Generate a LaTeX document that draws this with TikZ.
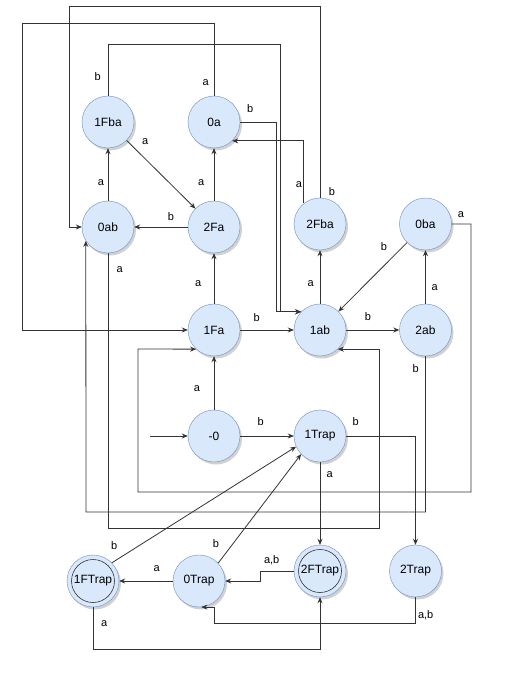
\documentclass[tikz,border=0pt]{standalone}
\usepackage{fontspec}
\setmainfont{Liberation Sans}
\usetikzlibrary{arrows.meta,shadows}
\definecolor{stateFill}{HTML}{DAE8FC}
\definecolor{stateLine}{HTML}{6C8EBF}
\definecolor{edgeInk}{HTML}{333333}

\begin{document}
\begin{tikzpicture}[x=1pt,y=-1pt,
  state/.style={circle, draw=stateLine, fill=stateFill, minimum size=52pt,
    inner sep=0pt, font=\fontsize{12}{14}\selectfont,
    drop shadow={shadow xshift=2pt, shadow yshift=-2.5pt, opacity=0.18, fill=black}},
  accepting/.style={state, path picture={\draw[edgeInk, line width=0.6pt]
    (path picture bounding box.center) circle[radius=21.5pt];}},
  trans/.style={draw=edgeInk, line width=0.8pt, -{Stealth[length=6pt,width=5pt]}},
  lbl/.style={font=\fontsize{11}{13}\selectfont, inner sep=0pt}
]
\fill[white] (0,0) rectangle (519,677);
\useasboundingbox (0,0) rectangle (519,677);

% states
\node[state] (1Fba)  at (108,122)   {1Fba};
\node[state] (0a)    at (214,122)   {0a};
\node[state] (0ab)   at (108,227)   {0ab};
\node[state] (2Fa)   at (214,227)   {2Fa};
\node[state] (2Fba)  at (320,224)   {2Fba};
\node[state] (0ba)   at (425.5,224) {0ba};
\node[state] (1Fa)   at (214,330)   {1Fa};
\node[state] (1ab)   at (320,330)   {1ab};
\node[state] (2ab)   at (425.5,330) {2ab};
\node[state] (m0)    at (214,436)   {-0};
\node[state] (1Trap) at (320,436)   {1Trap};
\node[accepting] (1FTrap) at (93,581)  {1FTrap};
\node[state]     (0Trap)  at (199,581) {0Trap};
\node[accepting] (2FTrap) at (320,571) {2FTrap};
\node[state]     (2Trap)  at (415.5,571) {2Trap};

% initial arrow
\coordinate (start) at (150,436);
\draw[trans] (start) -- (m0);

% straight transitions
\draw[trans] (1Fba) -- (2Fa);
\draw[trans] (0ab) -- (1Fba);
\draw[trans] (2Fa) -- (0a);
\draw[trans] (2Fa) -- (0ab);
\draw[trans] (1Fa) -- (2Fa);
\draw[trans] (1Fa) -- (1ab);
\draw[trans] (m0) -- (1Fa);
\draw[trans] (m0) -- (1Trap);
\draw[trans] (1ab) -- (2Fba);
\draw[trans] (1ab) -- (2ab);
\draw[trans] (0ba) -- (1ab);
\draw[trans] (2ab) -- (0ba);
\draw[trans] (1Trap) -- (2FTrap);
\draw[trans] (0Trap) -- (1FTrap);
\draw[trans] (1FTrap.44) -- (1Trap.204);
\draw[trans] (0Trap.43) -- (1Trap.224);

% routed transitions
\draw[trans] (0a.east) -- ++(36,0) |- (1ab.136);
\draw[trans] (1Fba.north) |- (280,44) |- (1ab.136);
\draw[trans] (0a.north) |- (22,23) |- (1Fa.west);
\draw[trans] (2Fba.north) |- (69,6) |- (0ab.west);
\draw[trans] (2Fba.128) |- (0a.-46.5);
\draw[trans] (0ba.east) -| (471,492) -| (138,349) -- (1Fa.227);
\draw[trans] (0ab.south) |- (379,528) |- (1ab.-47);
\draw[trans] (2ab.south) |- (86,512) -- (0ab.212);
\draw[trans] (1Trap.east) -| (2Trap.north);
\draw[trans] (2FTrap.west) -- (260,571) |- (0Trap.east);
\draw[trans] (2Trap.south) |- (214,623) |- (0Trap.-85);
\draw[trans] (1FTrap.south) |- (320,649) -- (2FTrap.south);

% transition labels
\node[lbl] (l1)  at (97.7,76.7)  {b};
\node[lbl] (l2)  at (205.7,82.7) {a};
\node[lbl] (l3)  at (250.3,108.7) {b};
\node[lbl] (l4)  at (145.3,142)  {a};
\node[lbl] (l5)  at (101,182.3)  {a};
\node[lbl] (l6)  at (201.3,183)  {a};
\node[lbl] (l7)  at (171,217)    {b};
\node[lbl] (l8)  at (299,185)    {a};
\node[lbl] (l9)  at (332,191.7)  {b};
\node[lbl] (l10) at (461,215)    {a};
\node[lbl] (l11) at (384,246.7)  {b};
\node[lbl] (l12) at (119.7,270)  {a};
\node[lbl] (l13) at (198.3,283.3) {a};
\node[lbl] (l14) at (310.7,283.3) {a};
\node[lbl] (l15) at (434.7,287.3) {a};
\node[lbl] (l16) at (256.7,318)  {b};
\node[lbl] (l17) at (368,316.7)  {b};
\node[lbl] (l18) at (415.7,368.3) {b};
\node[lbl] (l19) at (197,388.7)  {a};
\node[lbl] (l20) at (260.7,421.7) {b};
\node[lbl] (l21) at (355.7,421.7) {b};
\node[lbl] (l22) at (329.7,475)  {a};
\node[lbl] (l23) at (114.3,546)  {b};
\node[lbl] (l24) at (216,544)    {b};
\node[lbl] (l25) at (271.7,560.7) {a,b};
\node[lbl] (l26) at (156.7,568.3) {a};
\node[lbl] (l27) at (425.7,615.7) {a,b};
\node[lbl] (l28) at (104.3,623.3) {a};
\end{tikzpicture}
\end{document}
